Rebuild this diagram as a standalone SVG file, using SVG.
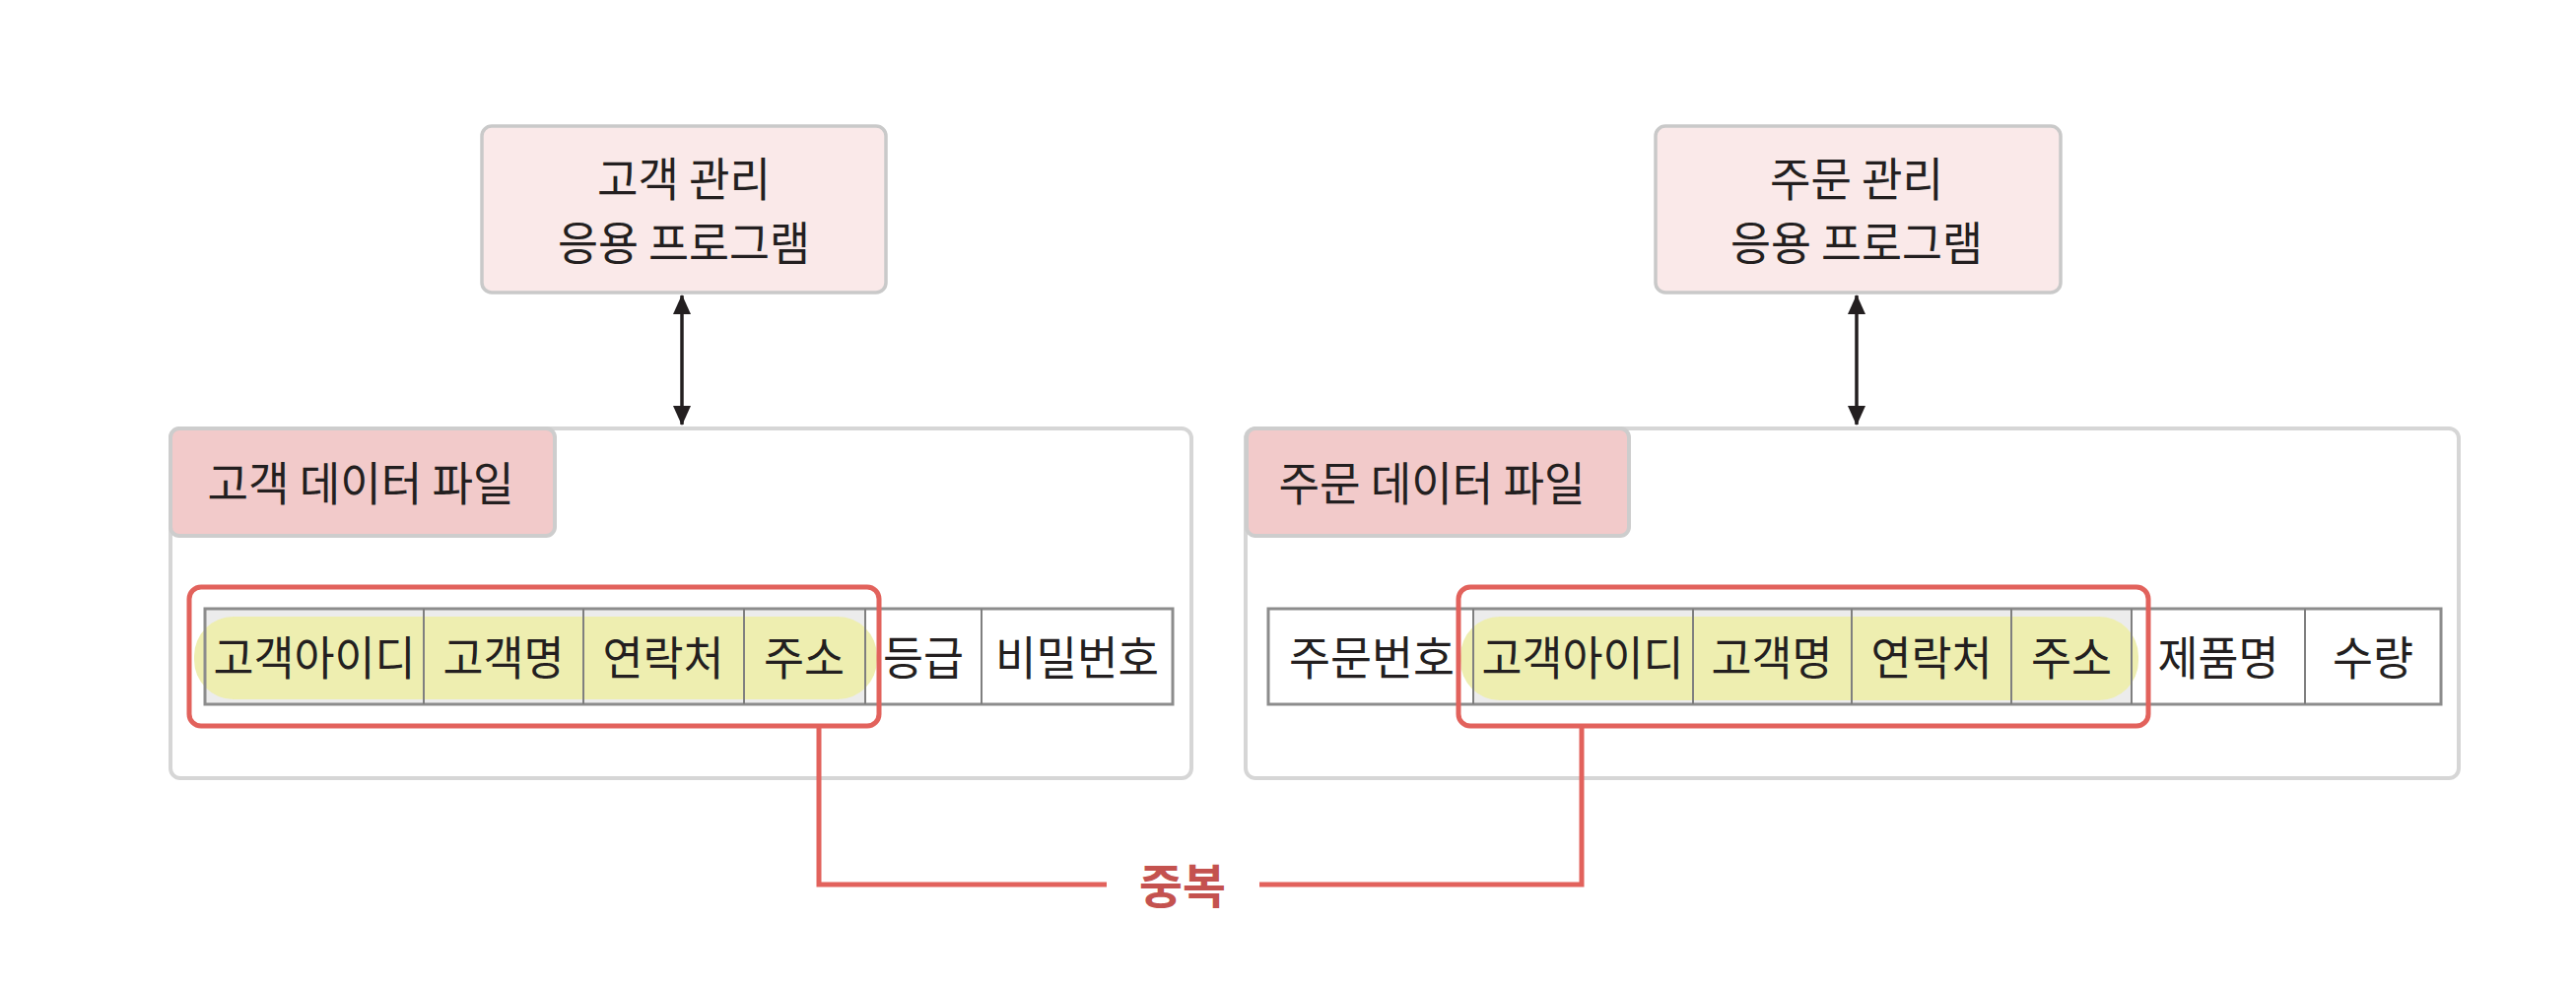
<svg xmlns="http://www.w3.org/2000/svg" width="2614" height="999" viewBox="0 0 2614 999">
<defs>
<style>
text{font-family:"Noto Sans CJK KR","Noto Sans",sans-serif;font-size:47px;fill:#231f20;text-anchor:middle}
.app{fill:#fae9e9;stroke:#c9c9c9;stroke-width:3.5}
.panel{fill:#ffffff;stroke:#d6d6d6;stroke-width:4}
.tab{fill:#f2caca;stroke:#cdcdcd;stroke-width:4}
.cellg{fill:#ececec}
.hl{fill:#eeeeb0}
.tbl{fill:none;stroke:#8c8c8c;stroke-width:3}
.div{stroke:#7f7f7f;stroke-width:2}
.red{fill:none;stroke:#e2625c;stroke-width:5}
.arrow{stroke:#231f20;stroke-width:3.5}
.dup{fill:#c4524f;font-weight:bold;font-size:48px}
</style>
<marker id="ah" viewBox="0 0 20 18" refX="19" refY="9" markerWidth="20" markerHeight="18" markerUnits="userSpaceOnUse" orient="auto-start-reverse">
<path d="M0,0 L20,9 L0,18 Z" fill="#231f20"/>
</marker>
</defs>

<g id="app-customer">
<rect class="app" x="489" y="128" width="410" height="169" rx="10"/>
<text x="694" y="199" textLength="176" lengthAdjust="spacingAndGlyphs">고객 관리</text>
<text x="694" y="264" textLength="256" lengthAdjust="spacingAndGlyphs">응용 프로그램</text>
</g>

<g id="app-order">
<rect class="app" x="1680" y="128" width="411" height="169" rx="10"/>
<text x="1884" y="199" textLength="176" lengthAdjust="spacingAndGlyphs">주문 관리</text>
<text x="1884" y="264" textLength="256" lengthAdjust="spacingAndGlyphs">응용 프로그램</text>
</g>

<g id="file-customer">
<rect class="panel" x="173" y="435" width="1036" height="355" rx="10"/>
<rect class="tab" x="173" y="435" width="390" height="109" rx="9"/>
<text x="366" y="508" textLength="311" lengthAdjust="spacingAndGlyphs">고객 데이터 파일</text>
<rect x="208" y="618" width="982" height="97" fill="#ffffff"/>
<rect class="cellg" x="208" y="618" width="670" height="97"/>
<rect class="hl" x="197" y="626" width="693" height="84" rx="40"/>
<rect class="tbl" x="208" y="618" width="982" height="97"/>
<line class="div" x1="430" y1="618" x2="430" y2="715"/>
<line class="div" x1="592" y1="618" x2="592" y2="715"/>
<line class="div" x1="755" y1="618" x2="755" y2="715"/>
<line class="div" x1="878" y1="618" x2="878" y2="715"/>
<line class="div" x1="996" y1="618" x2="996" y2="715"/>
<text x="319" y="685" textLength="205" lengthAdjust="spacingAndGlyphs">고객아이디</text>
<text x="511" y="685" textLength="123" lengthAdjust="spacingAndGlyphs">고객명</text>
<text x="673" y="685" textLength="123" lengthAdjust="spacingAndGlyphs">연락처</text>
<text x="816" y="685" textLength="82" lengthAdjust="spacingAndGlyphs">주소</text>
<text x="937" y="685" textLength="82" lengthAdjust="spacingAndGlyphs">등급</text>
<text x="1093" y="685" textLength="166" lengthAdjust="spacingAndGlyphs">비밀번호</text>
<rect class="red" x="192" y="596" width="700" height="141" rx="12"/>
</g>

<g id="file-order">
<rect class="panel" x="1264" y="435" width="1231" height="355" rx="10"/>
<rect class="tab" x="1265" y="435" width="388" height="109" rx="9"/>
<text x="1453" y="508" textLength="311" lengthAdjust="spacingAndGlyphs">주문 데이터 파일</text>
<rect x="1287" y="618" width="1190" height="97" fill="#ffffff"/>
<rect class="cellg" x="1495" y="618" width="668" height="97"/>
<rect class="hl" x="1482" y="626" width="688" height="85" rx="40"/>
<rect class="tbl" x="1287" y="618" width="1190" height="97"/>
<line class="div" x1="1495" y1="618" x2="1495" y2="715"/>
<line class="div" x1="1718" y1="618" x2="1718" y2="715"/>
<line class="div" x1="1879" y1="618" x2="1879" y2="715"/>
<line class="div" x1="2041" y1="618" x2="2041" y2="715"/>
<line class="div" x1="2163" y1="618" x2="2163" y2="715"/>
<line class="div" x1="2339" y1="618" x2="2339" y2="715"/>
<text x="1392" y="685" textLength="168" lengthAdjust="spacingAndGlyphs">주문번호</text>
<text x="1606" y="685" textLength="205" lengthAdjust="spacingAndGlyphs">고객아이디</text>
<text x="1798" y="685" textLength="123" lengthAdjust="spacingAndGlyphs">고객명</text>
<text x="1960" y="685" textLength="123" lengthAdjust="spacingAndGlyphs">연락처</text>
<text x="2102" y="685" textLength="82" lengthAdjust="spacingAndGlyphs">주소</text>
<text x="2251" y="685" textLength="123" lengthAdjust="spacingAndGlyphs">제품명</text>
<text x="2408" y="685" textLength="82" lengthAdjust="spacingAndGlyphs">수량</text>
<rect class="red" x="1480" y="596" width="700" height="141" rx="12"/>
</g>

<g id="connectors">
<line class="arrow" x1="692" y1="300" x2="692" y2="431" marker-start="url(#ah)" marker-end="url(#ah)"/>
<line class="arrow" x1="1884" y1="300" x2="1884" y2="431" marker-start="url(#ah)" marker-end="url(#ah)"/>
<path class="red" d="M831,737 V898 H1123"/>
<path class="red" d="M1278,898 H1605 V737"/>
</g>

<g id="label-dup">
<text class="dup" x="1200" y="917" textLength="88" lengthAdjust="spacingAndGlyphs">중복</text>
</g>
</svg>
